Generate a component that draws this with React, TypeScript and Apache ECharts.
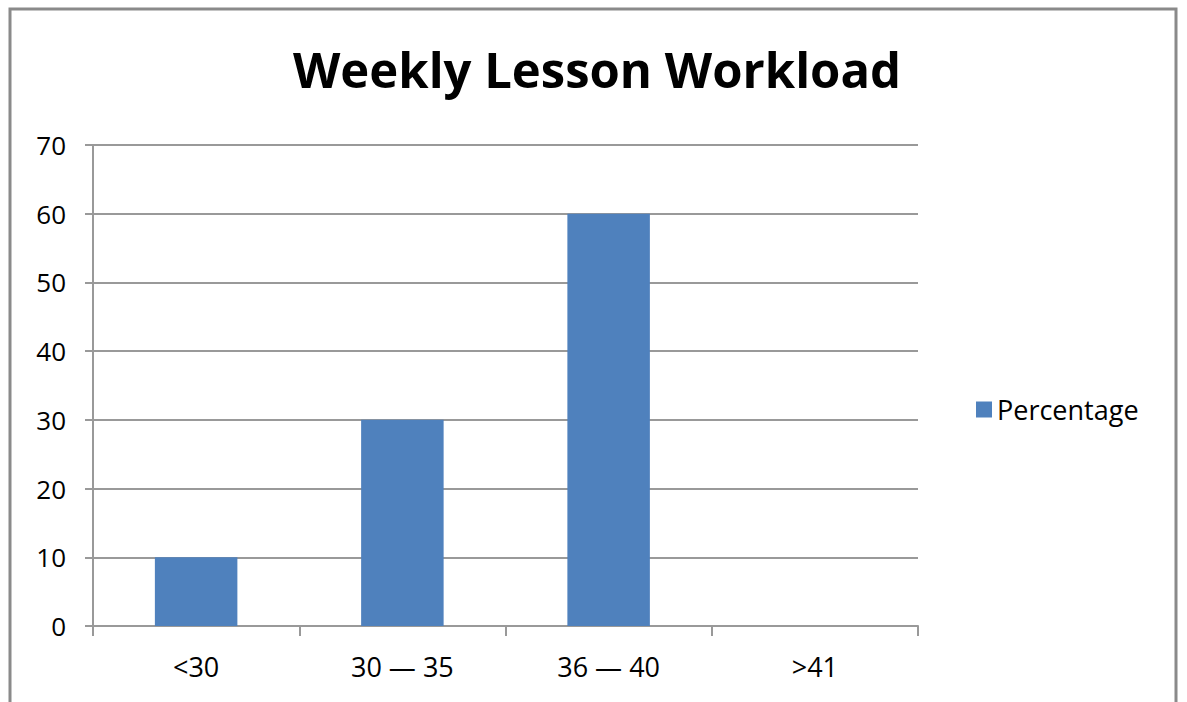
import React, { useEffect, useRef } from "react";
import * as echarts from "echarts";

const categories = ["<30", "30 — 35", "36 — 40", ">41"];
const percentage = [10, 30, 60, 0];
const yTicks = { min: 0, max: 70, interval: 10 };

export default function App() {
  const ref = useRef<HTMLDivElement>(null);
  useEffect(() => {
    document.body.style.margin = "0";
    const chart = echarts.init(ref.current!, null, { renderer: "svg" });
    chart.setOption({
      animation: false,
      backgroundColor: "#ffffff",
      title: {
        text: "Weekly Lesson Workload",
        left: 592,
        textAlign: "center",
        top: 39,
        textStyle: {
          fontFamily: "Open Sans",
          fontWeight: "bold",
          fontSize: 49,
          color: "#000",
        },
      },
      legend: {
        data: ["Percentage"],
        orient: "vertical",
        left: 971,
        top: 391,
        itemWidth: 16,
        itemHeight: 16,
        icon: "rect",
        itemGap: 6,
        textStyle: { fontFamily: "Open Sans", fontSize: 27, color: "#000" },
      },
      grid: { left: 93, top: 145, width: 825, height: 481, containLabel: false },
      xAxis: {
        type: "category",
        data: categories,
        boundaryGap: true,
        axisLine: { lineStyle: { color: "#999", width: 2 } },
        axisTick: { show: true, length: 10, alignWithLabel: false, lineStyle: { color: "#999", width: 2 } },
        axisLabel: { fontFamily: "Open Sans", fontSize: 27, color: "#000", margin: 27 },
      },
      yAxis: {
        type: "value",
        min: yTicks.min,
        max: yTicks.max,
        interval: yTicks.interval,
        axisLine: { show: true, lineStyle: { color: "#999", width: 2 } },
        axisTick: { show: true, length: 8, lineStyle: { color: "#999", width: 2 } },
        axisLabel: { fontFamily: "Open Sans", fontSize: 26, color: "#000", margin: 27 },
        splitLine: { lineStyle: { color: "#999", width: 2 } },
      },
      series: [
        {
          name: "Percentage",
          type: "bar",
          data: percentage,
          barWidth: "40%",
          itemStyle: { color: "#4f81bd" },
        },
      ],
      graphic: [
        {
          type: "rect",
          shape: { x: 10, y: 9, width: 1166, height: 700 },
          style: { fill: "none", stroke: "#8a8a8a", lineWidth: 3 },
          silent: true,
        },
      ],
    });
    return () => chart.dispose();
  }, []);
  return <div ref={ref} style={{ width: 1187, height: 702 }} />;
}
